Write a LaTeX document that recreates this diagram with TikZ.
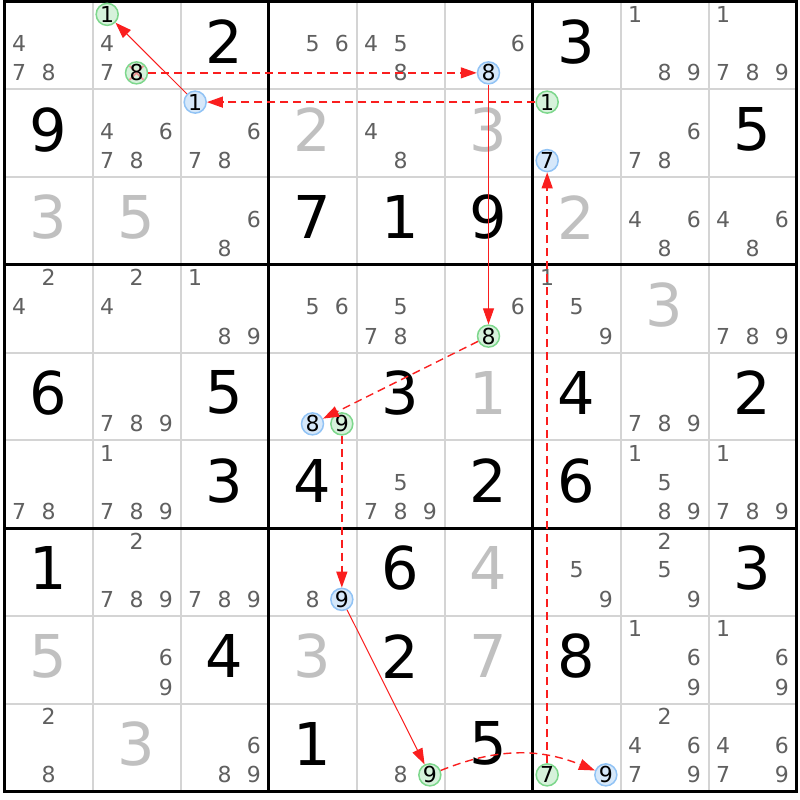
\documentclass[tikz,border=0pt]{standalone}
\usepackage{fontspec}
\setmainfont{DejaVu Sans}
\usetikzlibrary{arrows.meta}
\definecolor{candgray}{RGB}{96,96,96}
\definecolor{solvedgray}{RGB}{192,192,192}
\definecolor{gridgray}{RGB}{212,212,212}
\definecolor{chainred}{RGB}{250,30,30}
\definecolor{ongreen}{RGB}{125,215,140}
\definecolor{ongreenfill}{RGB}{214,242,219}
\definecolor{offblue}{RGB}{145,195,245}
\definecolor{offbluefill}{RGB}{214,232,250}
\definecolor{struckred}{RGB}{240,150,150}
% candidate #3 of row #1, column #2
\newcommand{\candpos}[3]{%
  \pgfmathsetmacro{\candx}{#2-1+(2*mod(#3-1,3)+1)/6}%
  \pgfmathsetmacro{\candy}{#1-1+(2*floor((#3-1)/3)+1)/6-0.02}}
\newcommand{\candlist}[3]{%
  \foreach \d in {#3}{\candpos{#1}{#2}{\d}\node[cand] (k#1#2\d) at (\candx,\candy) {\d};}}
\newcommand{\givendigit}[3]{\node[given] (v#1#2) at (#2-0.5,#1-0.54) {#3};}
\newcommand{\solveddigit}[3]{\node[solved] (v#1#2) at (#2-0.5,#1-0.54) {#3};}
\newcommand{\chaindigit}[5]{\candpos{#2}{#3}{#4}\node[#1] (#5) at (\candx,\candy) {#4};}
\begin{document}
\begin{tikzpicture}[x=88pt,y=-87.75pt,
    given/.style={font=\fontsize{59}{59}\selectfont,inner sep=0pt},
    solved/.style={given,text=solvedgray},
    cand/.style={font=\fontsize{22}{22}\selectfont,text=candgray,inner sep=0pt},
    oncand/.style={circle,inner sep=0pt,minimum size=22pt,line width=1.5pt,
      font=\fontsize{22}{22}\selectfont,draw=ongreen,fill=ongreenfill},
    offcand/.style={oncand,draw=offblue,fill=offbluefill},
    struck/.style={path picture={\draw[struckred,line width=1.8pt]
      (path picture bounding box.center) +(-7pt,-7pt) -- +(7pt,7pt)
      +(-7pt,7pt) -- +(7pt,-7pt);}},
    stronglink/.style={draw=chainred,line width=1pt,-{Triangle[length=16pt,width=11pt]}},
    weaklink/.style={stronglink,line width=1.4pt,dash pattern=on 8pt off 5pt},
    thinrule/.style={draw=gridgray,line width=2pt},
    thickrule/.style={draw=black,line width=3pt}]
  \useasboundingbox[fill=white] (-0.05114,-0.01709) rectangle (9.03977,9.09972);
  % grid
  \foreach \i in {1,2,4,5,7,8} {
    \draw[thinrule] (\i,0) -- (\i,9);
    \draw[thinrule] (0,\i) -- (9,\i);
  }
  \draw[thickrule] (3,0) -- (3,9) (6,0) -- (6,9) (0,3) -- (9,3) (0,6) -- (9,6);
  \draw[thickrule] (0,0) rectangle (9,9);
  % given and solved digits
  \givendigit{1}{3}{2} \givendigit{1}{7}{3}
  \givendigit{2}{1}{9} \givendigit{2}{9}{5}
  \givendigit{3}{4}{7} \givendigit{3}{5}{1} \givendigit{3}{6}{9}
  \givendigit{5}{1}{6} \givendigit{5}{3}{5} \givendigit{5}{5}{3} \givendigit{5}{7}{4} \givendigit{5}{9}{2}
  \givendigit{6}{3}{3} \givendigit{6}{4}{4} \givendigit{6}{6}{2} \givendigit{6}{7}{6}
  \givendigit{7}{1}{1} \givendigit{7}{5}{6} \givendigit{7}{9}{3}
  \givendigit{8}{3}{4} \givendigit{8}{5}{2} \givendigit{8}{7}{8}
  \givendigit{9}{4}{1} \givendigit{9}{6}{5}
  \solveddigit{2}{4}{2} \solveddigit{2}{6}{3}
  \solveddigit{3}{1}{3} \solveddigit{3}{2}{5} \solveddigit{3}{7}{2}
  \solveddigit{4}{8}{3} \solveddigit{5}{6}{1} \solveddigit{7}{6}{4}
  \solveddigit{8}{1}{5} \solveddigit{8}{4}{3} \solveddigit{8}{6}{7}
  \solveddigit{9}{2}{3}
  % candidates
  \candlist{1}{1}{4,7,8} \candlist{1}{2}{4,7} \candlist{1}{4}{5,6} \candlist{1}{5}{4,5,8}
  \candlist{1}{6}{6} \candlist{1}{8}{1,8,9} \candlist{1}{9}{1,7,8,9}
  \candlist{2}{2}{4,6,7,8} \candlist{2}{3}{6,7,8} \candlist{2}{5}{4,8} \candlist{2}{8}{6,7,8}
  \candlist{3}{3}{6,8} \candlist{3}{8}{4,6,8} \candlist{3}{9}{4,6,8}
  \candlist{4}{1}{2,4} \candlist{4}{2}{2,4} \candlist{4}{3}{1,8,9} \candlist{4}{4}{5,6}
  \candlist{4}{5}{5,7,8} \candlist{4}{6}{6} \candlist{4}{7}{1,5,9} \candlist{4}{9}{7,8,9}
  \candlist{5}{2}{7,8,9} \candlist{5}{8}{7,8,9}
  \candlist{6}{1}{7,8} \candlist{6}{2}{1,7,8,9} \candlist{6}{5}{5,7,8,9}
  \candlist{6}{8}{1,5,8,9} \candlist{6}{9}{1,7,8,9}
  \candlist{7}{2}{2,7,8,9} \candlist{7}{3}{7,8,9} \candlist{7}{4}{8} \candlist{7}{7}{5,9}
  \candlist{7}{8}{2,5,9}
  \candlist{8}{2}{6,9} \candlist{8}{8}{1,6,9} \candlist{8}{9}{1,6,9}
  \candlist{9}{1}{2,8} \candlist{9}{3}{6,8,9} \candlist{9}{5}{8}
  \candlist{9}{8}{2,4,6,7,9} \candlist{9}{9}{4,6,7,9}
  % chain
  \chaindigit{oncand}{1}{2}{1}{g1a}
  \chaindigit{oncand,struck}{1}{2}{8}{g8a}
  \chaindigit{offcand}{2}{3}{1}{b1a}
  \chaindigit{offcand}{1}{6}{8}{b8a}
  \chaindigit{oncand}{4}{6}{8}{g8b}
  \chaindigit{offcand}{5}{4}{8}{b8b}
  \chaindigit{oncand}{5}{4}{9}{g9a}
  \chaindigit{offcand}{7}{4}{9}{b9a}
  \chaindigit{oncand}{9}{5}{9}{g9b}
  \chaindigit{offcand}{9}{7}{9}{b9b}
  \chaindigit{oncand}{9}{7}{7}{g7a}
  \chaindigit{offcand}{2}{7}{7}{b7a}
  \chaindigit{oncand}{2}{7}{1}{g1b}
  \draw[stronglink] (b1a) -- (g1a);
  \draw[weaklink] (g8a) -- (b8a);
  \draw[stronglink] (b8a) -- (g8b);
  \draw[weaklink] (g8b) -- (b8b);
  \draw[weaklink] (g9a) -- (b9a);
  \draw[stronglink] (b9a) -- (g9b);
  \draw[weaklink] (g9b) to[bend left=22] (b9b);
  \draw[weaklink] (g7a) -- (b7a);
  \draw[weaklink] (g1b) -- (b1a);
\end{tikzpicture}
\end{document}
